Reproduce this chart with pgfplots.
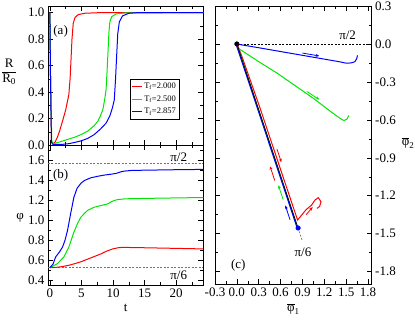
\documentclass[border=0pt]{standalone}
\usepackage{fontspec}
\setmainfont{Liberation Serif}
\usepackage{pgfplots}
\pgfplotsset{compat=1.18}
\usetikzlibrary{arrows.meta}

\definecolor{gred}{RGB}{255,0,0}
\definecolor{ggreen}{RGB}{0,230,0}
\definecolor{gblue}{RGB}{0,0,255}

\pgfplotsset{
  grace/.style={
    scale only axis,
    axis line style={line width=0.6pt},
    tick align=inside,
    major tick length=5pt,
    minor tick length=3pt,
    every tick/.style={black,line width=0.5pt},
    tick label style={font=\fontsize{13}{15}\selectfont},
    /pgf/number format/assume math mode=true,
  },
  curve/.style={line width=1pt},
  arr/.style={line width=0.8pt,-{Stealth[length=3.5pt,width=3pt]}},
}

\begin{document}
\begin{tikzpicture}[font=\fontsize{13}{15}\selectfont]
\useasboundingbox (0pt,0pt) rectangle (415pt,320pt);

% (a) R/R0 against t
\begin{axis}[grace,
  at={(48pt,175pt)}, anchor=south west,
  width=155.3pt, height=139pt,
  xmin=-0.3, xmax=24.3, ymin=0, ymax=1.05,
  xtick={0,5,10,15,20}, minor xtick={2.5,7.5,12.5,17.5,22.5},
  xticklabels={},
  ytick={0,0.2,0.4,0.6,0.8,1.0}, minor ytick={0.1,0.3,0.5,0.7,0.9},
  yticklabel style={/pgf/number format/.cd,fixed,fixed zerofill,precision=1},
  ylabel={\begin{tabular}{@{}c@{}}R\\\hline R\textsubscript{0}\end{tabular}},
  ylabel style={at={(rel axis cs:-0.25,0.525)}, rotate=-90, anchor=center},
  legend style={at={(0.525,0.474)}, anchor=north west, draw=black,
    line width=0.5pt, font=\fontsize{8.5}{9.5}\selectfont,
    inner xsep=1.5pt, inner ysep=1.5pt, row sep=1.5pt, cells={anchor=west}},
  legend image code/.code={\draw (0pt,0pt) -- (10pt,0pt);},
]
\addlegendimage{gred, line width=1pt}
\addlegendentry{T\textsubscript{f}=2.000}
\addlegendimage{ggreen, line width=1pt}
\addlegendentry{T\textsubscript{f}=2.500}
\addlegendimage{gblue, line width=1pt}
\addlegendentry{T\textsubscript{f}=2.857}
\addplot[curve, gred, forget plot] coordinates {
  (0,1.0) (0.1,0.5) (0.25,0.03) (0.5,0.01) (0.8,0.02) (1.2,0.06) (1.5,0.1)
  (2.0,0.18) (2.5,0.265) (3.0,0.38) (3.2,0.5) (3.35,0.65) (3.5,0.8)
  (3.7,0.92) (4.0,0.965) (4.5,0.985) (5.5,0.995) (8,1.0) (24.3,1.0)};
\addplot[curve, ggreen, forget plot] coordinates {
  (0,1.0) (0.1,0.5) (0.3,0.02) (0.6,0.01) (1,0.015) (2,0.03) (3,0.045)
  (4,0.06) (5,0.08) (6,0.105) (7,0.145) (7.6,0.18) (8,0.22) (8.4,0.27)
  (8.7,0.35) (8.9,0.42) (9.05,0.55) (9.2,0.7) (9.35,0.85) (9.5,0.93)
  (9.8,0.97) (10.5,0.99) (12,0.998) (24.3,1.0)};
\addplot[curve, gblue, forget plot] coordinates {
  (0,1.0) (0.1,0.5) (0.25,0.02) (0.5,0.003) (2,0.005) (3,0.01) (4,0.02)
  (5,0.032) (6,0.05) (7,0.078) (8,0.12) (8.9,0.165) (9.5,0.22) (9.9,0.28)
  (10.2,0.34) (10.4,0.5) (10.55,0.65) (10.75,0.84) (11,0.93) (11.5,0.975)
  (12.5,0.995) (14,1.0) (24.3,1.0)};
\node at (axis cs:1.7,0.856) {(a)};
\end{axis}

% (b) phi against t
\begin{axis}[grace,
  at={(48pt,35pt)}, anchor=south west,
  width=155.3pt, height=140pt,
  xmin=-0.3, xmax=24.3, ymin=0.35, ymax=1.755,
  xtick={0,5,10,15,20}, minor xtick={2.5,7.5,12.5,17.5,22.5},
  ytick={0.4,0.6,0.8,1.0,1.2,1.4,1.6}, minor ytick={0.5,0.7,0.9,1.1,1.3,1.5,1.7},
  yticklabel style={/pgf/number format/.cd,fixed,fixed zerofill,precision=1},
  xlabel={t},
  ylabel={φ},
  ylabel style={at={(rel axis cs:-0.18,0.48)}, rotate=-90, anchor=center},
]
\addplot[black!55, line width=0.6pt, dash pattern=on 2pt off 1.5pt] coordinates {(-0.3,1.5708) (24.3,1.5708)};
\addplot[black!55, line width=0.6pt, dash pattern=on 2pt off 1.5pt] coordinates {(-0.3,0.5236) (24.3,0.5236)};
\addplot[curve, gred] coordinates {
  (0,0.524) (1,0.527) (2,0.535) (3,0.548) (4,0.565) (5,0.585) (6,0.61)
  (7,0.635) (8,0.66) (9,0.69) (10,0.713) (11,0.726) (12,0.727) (14,0.725)
  (18,0.72) (22,0.715) (24.3,0.712)};
\addplot[curve, ggreen] coordinates {
  (0,0.524) (0.5,0.54) (1.2,0.565) (2.2,0.63) (3.0,0.73) (3.8,0.88)
  (4.4,0.97) (4.9,1.03) (5.5,1.07) (6,1.1) (7,1.13) (7.6,1.14) (8.6,1.155)
  (9.2,1.165) (9.7,1.185) (10.3,1.2) (10.8,1.208) (12,1.215) (16,1.22)
  (24.3,1.228)};
\addplot[curve, gblue] coordinates {
  (0,0.524) (0.5,0.56) (0.9,0.63) (1.5,0.68) (2.0,0.73) (2.4,0.8) (2.8,0.9)
  (3.3,1.07) (3.8,1.23) (4.3,1.32) (4.9,1.37) (5.5,1.40) (6.5,1.426)
  (7.5,1.44) (8.6,1.453) (9.5,1.46) (10.5,1.47) (11.2,1.485) (11.8,1.493)
  (13,1.5) (16,1.503) (20,1.507) (24.3,1.51)};
\node[anchor=south, inner sep=1.5pt] at (axis cs:20.4,1.5708) {π/2};
\node[anchor=north, inner sep=2.5pt] at (axis cs:20.4,0.5236) {π/6};
\node at (axis cs:1.7,1.453) {(b)};
\end{axis}

% (c) phase plane
\begin{axis}[grace,
  at={(215pt,35.7pt)}, anchor=south west,
  width=156.7pt, height=278.3pt,
  xmin=-0.3, xmax=1.85, ymin=-1.9, ymax=0.3,
  xtick={-0.3,0,0.3,0.6,0.9,1.2,1.5,1.8},
  xticklabels={-0.3,0.0,0.3,0.6,0.9,1.2,1.5,1.8},
  minor xtick={-0.15,0.15,0.45,0.75,1.05,1.35,1.65},
  ytick={-1.8,-1.5,-1.2,-0.9,-0.6,-0.3,0,0.3},
  yticklabels={-1.8,-1.5,-1.2,-0.9,-0.6,-0.3,0.0,0.3},
  minor ytick={-1.65,-1.35,-1.05,-0.75,-0.45,-0.15,0.15},
  yticklabel pos=right,
  xlabel={$\overline{\hbox{φ}}_{\hbox{\fontsize{9}{10}\selectfont 1}}$},
  ylabel={$\overline{\hbox{φ}}_{\hbox{\fontsize{9}{10}\selectfont 2}}$},
  ylabel style={at={(rel axis cs:1.232,0.508)}, rotate=-90, anchor=center},
  clip=false,
]
\addplot[black, line width=0.6pt, dash pattern=on 2pt off 1.5pt] coordinates {(0,0) (1.85,0)};
\addplot[black!60, line width=0.6pt, dash pattern=on 2pt off 1.5pt] coordinates {(0.84,-1.455) (0.9,-1.56)};
\addplot[curve, gred] coordinates {
  (0.01,-0.01) (0.07,-0.1) (0.314,-0.5) (0.604,-1.0) (0.833,-1.392)
  (0.95,-1.31) (1.026,-1.273) (1.072,-1.234) (1.117,-1.215) (1.154,-1.247)
  (1.135,-1.285) (1.1,-1.3)};
\addplot[curve, ggreen] coordinates {
  (0.828,-1.455) (0.02,-0.035) (0.3,-0.14) (0.55,-0.23) (0.8,-0.33)
  (1.05,-0.43) (1.3,-0.54) (1.42,-0.59) (1.47,-0.605) (1.51,-0.595)
  (1.535,-0.565)};
\addplot[curve, gblue] coordinates {
  (0.828,-1.455) (-0.012,0) (0.25,-0.025) (0.5,-0.05) (0.75,-0.075)
  (1.0,-0.1) (1.25,-0.125) (1.4,-0.14) (1.5,-0.152) (1.57,-0.15)
  (1.62,-0.14) (1.645,-0.115) (1.655,-0.09)};
\addplot[black, line width=0.7pt] coordinates {(0,0) (0.84,-1.455)};
% direction arrows
\addplot[arr, gblue] coordinates {(0.9,-0.072) (1.13,-0.095)};
\addplot[arr, ggreen] coordinates {(0.96,-0.375) (1.13,-0.44)};
\addplot[arr, gred] coordinates {(0.55,-0.83) (0.61,-0.935)};
\addplot[arr, gred] coordinates {(0.52,-1.08) (0.455,-0.967)};
\addplot[arr, ggreen] coordinates {(0.635,-1.23) (0.57,-1.117)};
\addplot[arr, gblue] coordinates {(0.73,-1.39) (0.665,-1.277)};
\addplot[arr, gred] coordinates {(0.95,-1.35) (1.04,-1.29)};
\addplot[only marks, mark=*, mark size=2.3pt, black] coordinates {(0,0)};
\addplot[only marks, mark=*, mark size=2.3pt, gblue] coordinates {(0.84,-1.455)};
\node at (axis cs:1.52,0.07) {π/2};
\node at (axis cs:0.907,-1.645) {π/6};
\node at (axis cs:0.02,-1.747) {(c)};
\end{axis}
\end{tikzpicture}
\end{document}
